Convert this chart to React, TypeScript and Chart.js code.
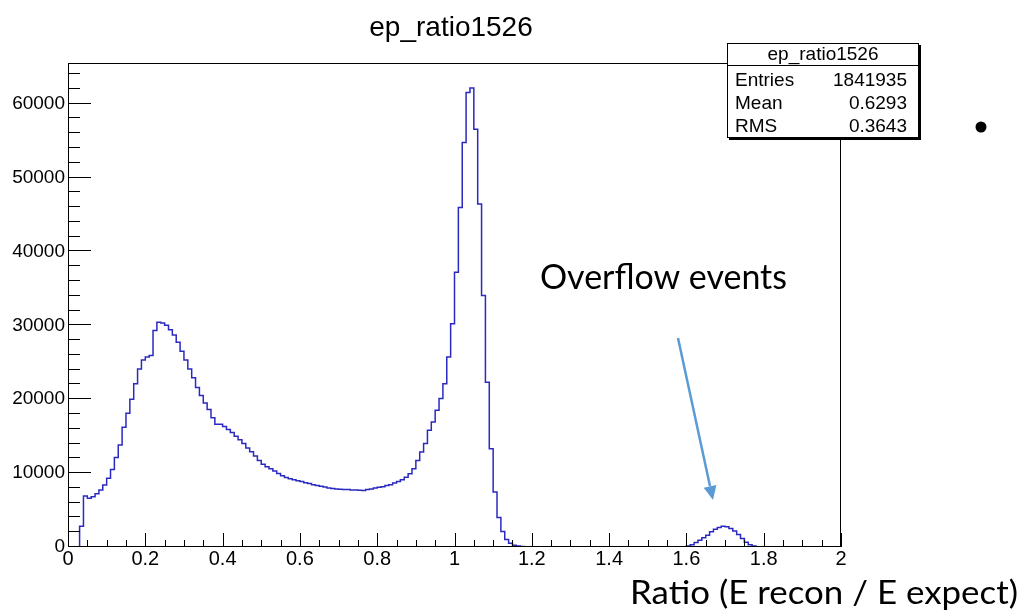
import React, { useEffect, useRef } from "react";
import { Chart, registerables } from "chart.js";

Chart.register(...registerables);

// ---- data ----
const histTitle = "ep_ratio1526";
const xMin = 0;
const xMax = 2;
const binWidth = 0.01;
const yMax = 65500;
const xTickValues = [0, 0.2, 0.4, 0.6, 0.8, 1, 1.2, 1.4, 1.6, 1.8, 2];
const yTickValues = [0, 10000, 20000, 30000, 40000, 50000, 60000];

// 200 bins of width 0.01 from 0 to 2
const counts: number[] = [
  // 0.00 - 0.09
  0, 0, 0, 2800, 6900, 6600, 6800, 7200, 7700, 8400,
  // 0.10 - 0.19
  9300, 10500, 12100, 13800, 16200, 18100, 20000, 22100, 24100, 25300,
  // 0.20 - 0.29
  25700, 25900, 29300, 30400, 30300, 30000, 29400, 28700, 27700, 26500,
  // 0.30 - 0.39
  25300, 24100, 22900, 21600, 20500, 19500, 18600, 17500, 16600, 16600,
  // 0.40 - 0.49
  16300, 15900, 15500, 15000, 14500, 14000, 13400, 12900, 12300, 11700,
  // 0.50 - 0.59
  11200, 10850, 10600, 10300, 9950, 9650, 9400, 9250, 9100, 8950,
  // 0.60 - 0.69
  8850, 8710, 8580, 8440, 8310, 8220, 8130, 7990, 7900, 7860,
  // 0.70 - 0.79
  7810, 7770, 7770, 7720, 7720, 7680, 7640, 7770, 7860, 7990,
  // 0.80 - 0.89
  8080, 8170, 8310, 8440, 8650, 8850, 9100, 9450, 9900, 10600,
  // 0.90 - 0.99
  11700, 12850, 14000, 15800, 16900, 18500, 20100, 22100, 25700, 30200,
  // 1.00 - 1.09
  37170, 45960, 54740, 61500, 62100, 56540, 46410, 34020, 22310, 13300,
  // 1.10 - 1.19
  7450, 4000, 2100, 1000, 500, 250, 120, 60, 30, 10,
  // 1.20 - 1.29
  0, 0, 0, 0, 0, 0, 0, 0, 0, 0,
  // 1.30 - 1.39
  0, 0, 0, 0, 0, 0, 0, 0, 0, 0,
  // 1.40 - 1.49
  0, 0, 0, 0, 0, 0, 0, 0, 0, 0,
  // 1.50 - 1.59
  0, 0, 0, 0, 0, 0, 0, 0, 0, 0,
  // 1.60 - 1.69
  150, 300, 600, 900, 1250, 1600, 2050, 2400, 2650, 2800,
  // 1.70 - 1.79
  2750, 2500, 2150, 1700, 1150, 650, 300, 120, 40, 0,
  // 1.80 - 1.89
  0, 0, 0, 0, 0, 0, 0, 0, 0, 0,
  // 1.90 - 1.99
  0, 0, 0, 0, 0, 0, 0, 0, 0, 0,
];

const statsLabels = ["Entries", "Mean", "RMS"];
const statsValues = ["1841935", "0.6293", "0.3643"];
const annotationText = "Overflow events";
const xAxisTitle = "Ratio (E recon / E expect)";

const histColor = "#2a2ac0";
const arrowColor = "#5b9bd5";
const rootFont = '"Liberation Sans", Arial, sans-serif';
const slideFont = 'Lato, "Open Sans", sans-serif';

function drawFittedText(
  ctx: CanvasRenderingContext2D,
  text: string,
  x: number,
  y: number,
  width: number,
  font: string
) {
  ctx.save();
  ctx.font = font;
  ctx.textAlign = "left";
  ctx.textBaseline = "middle";
  const w = ctx.measureText(text).width;
  ctx.translate(x, y);
  ctx.scale(width / w, 1);
  ctx.fillText(text, 0, 0);
  ctx.restore();
}

const decorPlugin = {
  id: "rootDecor",
  afterDatasetsDraw(chart: any) {
    const { ctx, chartArea: a, scales } = chart;
    const xs = scales.x;
    const ys = scales.y;
    ctx.save();
    ctx.strokeStyle = "#000";
    ctx.lineWidth = 1;

    // inside ticks
    ctx.beginPath();
    for (let k = 0; k <= 40; k++) {
      const px = Math.round(xs.getPixelForValue(k * 0.05)) + 0.5;
      const len = k % 4 === 0 ? 14 : 7;
      ctx.moveTo(px, a.bottom);
      ctx.lineTo(px, a.bottom - len);
    }
    for (let k = 0; k * 2000 <= yMax; k++) {
      const py = Math.round(ys.getPixelForValue(k * 2000)) - 0.5;
      const len = k % 5 === 0 ? 23 : 12;
      ctx.moveTo(a.left, py);
      ctx.lineTo(a.left + len, py);
    }
    ctx.stroke();

    // frame
    ctx.strokeRect(a.left + 0.5, a.top + 0.5, a.right - a.left - 1, a.bottom - a.top - 1);
    ctx.restore();
  },
  afterDraw(chart: any) {
    const { ctx } = chart;
    ctx.save();

    // main title
    ctx.fillStyle = "#000";
    ctx.font = `28px ${rootFont}`;
    ctx.textAlign = "center";
    ctx.textBaseline = "middle";
    ctx.fillText(histTitle, 451, 28);

    // stats box
    const bx = 727, by = 43, bw = 192, bh = 95;
    ctx.fillStyle = "#000";
    ctx.fillRect(bx + 2, by + 2, bw, bh);
    ctx.fillStyle = "#fff";
    ctx.fillRect(bx, by, bw, bh);
    ctx.strokeStyle = "#000";
    ctx.lineWidth = 1;
    ctx.strokeRect(bx + 0.5, by + 0.5, bw - 1, bh - 1);
    ctx.beginPath();
    ctx.moveTo(bx, 65.5);
    ctx.lineTo(bx + bw, 65.5);
    ctx.stroke();
    ctx.fillStyle = "#000";
    ctx.font = `19px ${rootFont}`;
    ctx.textAlign = "center";
    ctx.fillText(histTitle, bx + bw / 2, 55);
    const rowY = [81, 104, 127];
    statsLabels.forEach((lab, i) => {
      ctx.textAlign = "left";
      ctx.fillText(lab, 735, rowY[i]);
      ctx.textAlign = "right";
      ctx.fillText(statsValues[i], 907, rowY[i]);
    });

    // annotation text
    ctx.fillStyle = "#000";
    drawFittedText(ctx, annotationText, 540, 278, 247, `35px ${slideFont}`);
    drawFittedText(ctx, xAxisTitle, 630, 593, 388, `33px ${slideFont}`);

    // arrow
    const x1 = 678, y1 = 338, x2 = 713, y2 = 500;
    const ang = Math.atan2(y2 - y1, x2 - x1);
    const head = 14, half = 6.5;
    const bxh = x2 - head * Math.cos(ang);
    const byh = y2 - head * Math.sin(ang);
    ctx.strokeStyle = arrowColor;
    ctx.fillStyle = arrowColor;
    ctx.lineWidth = 2.5;
    ctx.beginPath();
    ctx.moveTo(x1, y1);
    ctx.lineTo(bxh, byh);
    ctx.stroke();
    ctx.beginPath();
    ctx.moveTo(x2, y2);
    ctx.lineTo(bxh + half * Math.sin(ang), byh - half * Math.cos(ang));
    ctx.lineTo(bxh - half * Math.sin(ang), byh + half * Math.cos(ang));
    ctx.closePath();
    ctx.fill();

    // slide bullet
    ctx.fillStyle = "#000";
    ctx.beginPath();
    ctx.arc(981, 127, 5.5, 0, Math.PI * 2);
    ctx.fill();

    ctx.restore();
  },
};

export default function App() {
  const canvasRef = useRef<HTMLCanvasElement | null>(null);

  useEffect(() => {
    const canvas = canvasRef.current;
    if (!canvas) return;
    const points = counts.map((c, i) => ({ x: xMin + i * binWidth, y: c }));
    points.push({ x: xMax, y: counts[counts.length - 1] });

    const chart = new Chart(canvas, {
      type: "line",
      data: {
        datasets: [
          {
            data: points,
            stepped: "before",
            borderColor: histColor,
            borderWidth: 1.5,
            pointRadius: 0,
            fill: false,
          },
        ],
      },
      options: {
        animation: false,
        responsive: false,
        devicePixelRatio: 1,
        layout: { padding: { top: 63, right: 180, left: 0, bottom: 0 } },
        plugins: { legend: { display: false }, tooltip: { enabled: false }, title: { display: false } },
        scales: {
          x: {
            type: "linear",
            min: xMin,
            max: xMax,
            grid: { display: false, drawTicks: false },
            border: { display: false },
            afterBuildTicks: (s: any) => {
              s.ticks = xTickValues.map((v) => ({ value: v }));
            },
            ticks: {
              padding: 0,
              color: "#000",
              font: { family: rootFont, size: 20 },
              maxRotation: 0,
              autoSkip: false,
              callback: (v: any) => String(Math.round(Number(v) * 10) / 10),
            },
            afterFit: (s: any) => {
              s.height = 63;
            },
          },
          y: {
            type: "linear",
            min: 0,
            max: yMax,
            grid: { display: false, drawTicks: false },
            border: { display: false },
            afterBuildTicks: (s: any) => {
              s.ticks = yTickValues.map((v) => ({ value: v }));
            },
            ticks: {
              padding: 3,
              color: "#000",
              autoSkip: false,
              font: { family: rootFont, size: 19 },
              callback: (v: any) => String(v),
            },
            afterFit: (s: any) => {
              s.width = 68;
            },
          },
        },
      },
      plugins: [decorPlugin],
    });
    return () => chart.destroy();
  }, []);

  return (
    <div style={{ position: "fixed", left: 0, top: 0, width: 1021, height: 610, background: "#fff" }}>
      <canvas ref={canvasRef} width={1021} height={610} />
    </div>
  );
}
